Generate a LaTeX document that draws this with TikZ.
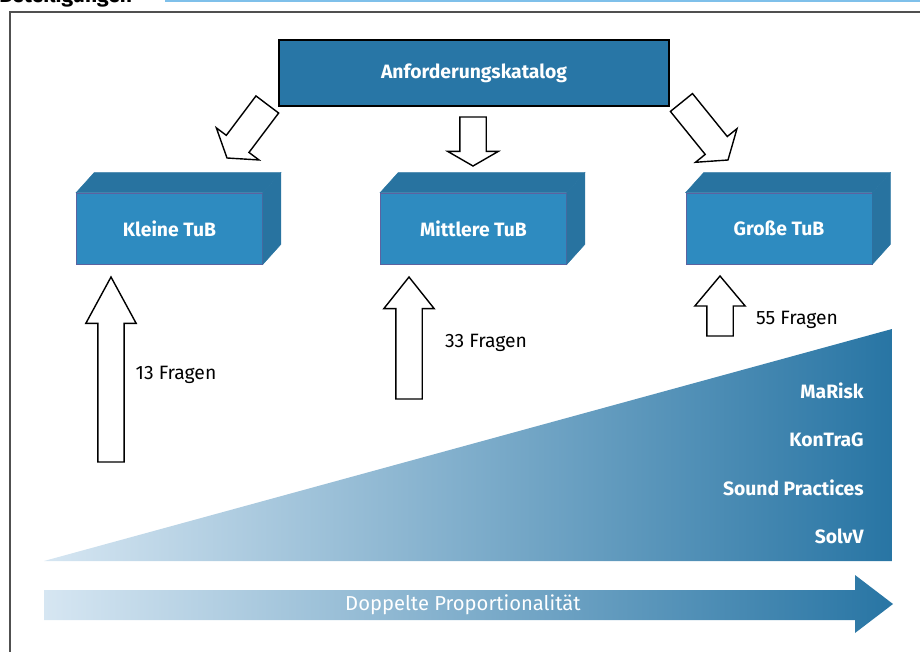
\documentclass[tikz,border=0pt]{standalone}
\usepackage{fontspec}
\setmainfont{Fira Sans}
\usepackage{tikz}
\usetikzlibrary{shapes.arrows,positioning}
\definecolor{katalogblue}{RGB}{40,118,166}
\definecolor{frontblue}{RGB}{46,139,192}
\definecolor{sideblue}{RGB}{40,115,160}
\definecolor{edgeblue}{RGB}{92,98,160}
\definecolor{fadelight}{RGB}{214,230,242}
\definecolor{fadedark}{RGB}{40,117,164}
\definecolor{headerblue}{RGB}{127,192,234}
\definecolor{framegray}{RGB}{80,80,80}

\begin{document}
\begin{tikzpicture}[x=0.02cm, y=-0.02cm,
  katalog/.style={rectangle, draw=black, line width=0.8pt, fill=katalogblue, text=white, minimum width=7.8cm, minimum height=1.32cm, font=\fontsize{11}{13}\selectfont\bfseries},
  tubfront/.style={rectangle, draw=edgeblue, line width=0.4pt, fill=frontblue, text=white, minimum width=3.72cm, minimum height=1.42cm, inner sep=0pt, font=\fontsize{11}{13}\selectfont\bfseries},
  tubface/.style={fill=sideblue, draw=sideblue, line width=0.3pt},
  blockarrow/.style={single arrow, draw=black, fill=white, line width=0.8pt, inner xsep=0pt, inner ysep=0.25cm, outer sep=0pt, anchor=tip, single arrow head extend=0.24cm},
  fragen/.style={font=\fontsize{11}{13}\selectfont},
  rulelabel/.style={text=white, anchor=base east, inner sep=0pt, font=\fontsize{11}{13}\selectfont\bfseries},
  fade/.style={left color=fadelight, right color=fadedark}]

  \useasboundingbox (0,0) rectangle (920,652);
  \clip (0,0) rectangle (920,652);

  % header and frame
  \node[anchor=base west, inner sep=0pt, font=\fontsize{12}{14}\selectfont\bfseries] (title) at (-1,3) {Beteiligungen};
  \draw[headerblue, line width=0.6pt] (165,1) -- (925,1);
  \draw[framegray, line width=1.1pt] (10,665) |- (930,12);

  % catalogue and the three sizes
  \node[katalog] (katalog) at (474,73) {Anforderungskatalog};
  \node[tubfront] (kleine) at (169.5,228.5) {Kleine TuB};
  \node[tubfront] (mittlere) at (473.5,228.5) {Mittlere TuB};
  \node[tubfront] (grosse) at (779,228.5) {Große TuB};

  \draw[tubface] (kleine.north west) -- ++(18,-20) -- ([shift={(18,-20)}]kleine.north east) -- (kleine.north east) -- cycle;
  \draw[tubface] (kleine.north east) -- ++(18,-20) -- ([shift={(18,-20)}]kleine.south east) -- (kleine.south east) -- cycle;
  \draw[tubface] (mittlere.north west) -- ++(18,-20) -- ([shift={(18,-20)}]mittlere.north east) -- (mittlere.north east) -- cycle;
  \draw[tubface] (mittlere.north east) -- ++(18,-20) -- ([shift={(18,-20)}]mittlere.south east) -- (mittlere.south east) -- cycle;
  \draw[tubface] (grosse.north west) -- ++(18,-20) -- ([shift={(18,-20)}]grosse.north east) -- (grosse.north east) -- cycle;
  \draw[tubface] (grosse.north east) -- ++(18,-20) -- ([shift={(18,-20)}]grosse.south east) -- (grosse.south east) -- cycle;

  % block arrows
  \node[blockarrow, rotate=233, inner ysep=0.27cm, single arrow head extend=0.25cm, minimum height=1.34cm, single arrow tip angle=113] (toKleine) at (227,158) {};
  \node[blockarrow, rotate=-90, minimum height=0.98cm, single arrow tip angle=120] (toMittlere) at (473,166) {};
  \node[blockarrow, rotate=-51, inner ysep=0.27cm, single arrow head extend=0.25cm, minimum height=1.48cm, single arrow tip angle=110] (toGrosse) at (728,160) {};

  \node[blockarrow, rotate=90, minimum height=3.7cm, single arrow tip angle=57] (upKleine) at (111,277) {};
  \node[blockarrow, rotate=90, minimum height=2.44cm, single arrow tip angle=77] (upMittlere) at (409,277) {};
  \node[blockarrow, rotate=90, minimum height=1.2cm, single arrow tip angle=80] (upGrosse) at (720,276) {};

  \node[fragen] (fragenKleine) at (176,375) {13 Fragen};
  \node[fragen] (fragenMittlere) at (486,343) {33 Fragen};
  \node[fragen] (fragenGrosse) at (797,320) {55 Fragen};

  % regulation wedge
  \shade[fade] (44,561) -- (892,329) -- (892,561) -- cycle;
  \node[rulelabel] (marisk) at (864,398) {MaRisk};
  \node[rulelabel] (kontrag) at (864,446) {KonTraG};
  \node[rulelabel] (sound) at (864,495) {Sound Practices};
  \node[rulelabel] (solvv) at (864,543) {SolvV};

  % proportionality arrow
  \shade[fade] (44,590) -- (855,590) -- (855,575) -- (893,604) -- (855,633) -- (855,620) -- (44,620) -- cycle;
  \node[text=white, font=\fontsize{11.5}{14}\selectfont] (doppelt) at (463,605) {Doppelte Proportionalität};
\end{tikzpicture}
\end{document}
